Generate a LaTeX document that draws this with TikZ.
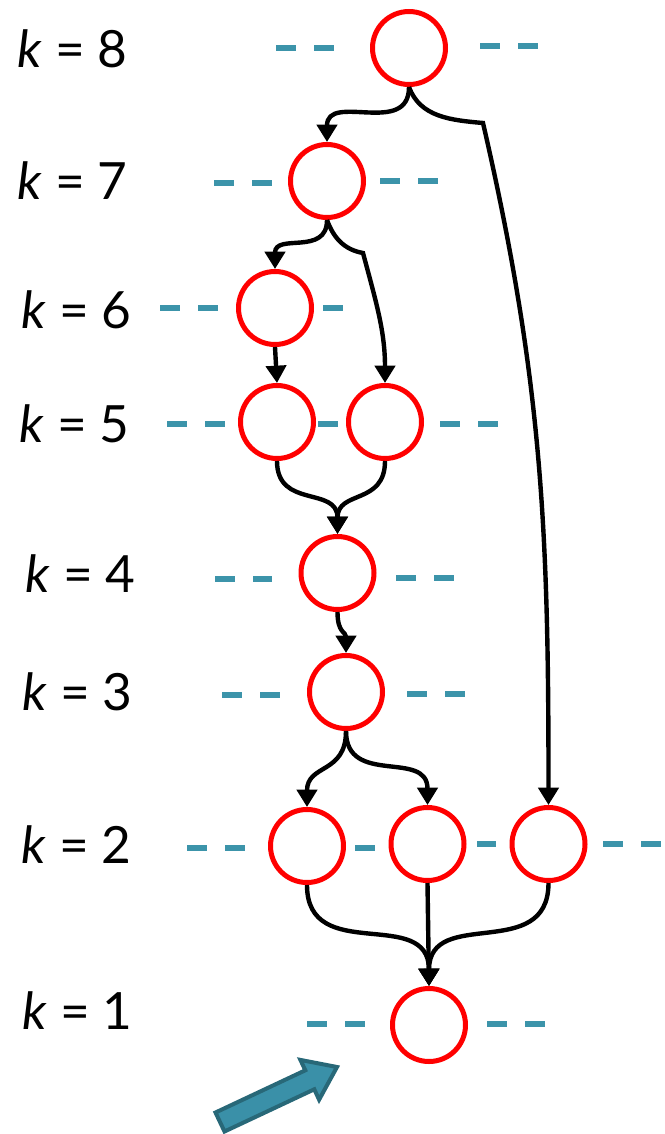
\documentclass[tikz,border=0pt]{standalone}
\usepackage{fontspec}
\setmainfont{Lato}
\usetikzlibrary{arrows.meta}

\definecolor{levelteal}{RGB}{60,148,170}
\definecolor{arrowteal}{RGB}{58,144,168}
\definecolor{arrowedge}{RGB}{40,104,120}

\begin{document}
\begin{tikzpicture}[x=0.75pt, y=0.75pt,
    frame/.style = {circle, draw=red, line width=3.75pt, minimum size=54.75pt, inner sep=0pt},
    call/.style = {line width=3.3pt, -{Triangle[length=13pt, width=15pt]}},
    level/.style = {levelteal, line width=4.5pt, dash pattern=on 15pt off 13.5pt},
    klabel/.style = {anchor=base west, inner sep=0pt, font=\fontsize{38.5}{42}\selectfont}]
    \useasboundingbox (0,0) rectangle (664,-1134);

    % Level labels
    \foreach \n/\x/\y in {8/17/68, 7/17/200, 6/21/328, 5/19/442, 4/25/592, 3/22/710, 2/21/863, 1/22/1029}
        \node[klabel] (lab\n) at (\x,-\y) {\textit{k} = \n};

    % Dashed levels
    \foreach \xa/\xb/\y in {276/334/48, 480/540/46, 214/275/183, 380/441/181,
                            160/218/308, 323/345/308, 167/228/424, 318/340/424, 440/500/424,
                            215/272/579, 396/455/578, 222/282/695, 407/466/694,
                            187/247/848, 355/377/848, 477/496/844, 603/664/844,
                            307/365/1024, 487/547/1024}
        \draw[level] (\xa,-\y) -- (\xb,-\y);

    % Frames
    \node[frame] (n8) at (409,-48) {};
    \node[frame] (n7) at (327,-181) {};
    \node[frame] (n6) at (275,-308) {};
    \node[frame] (n5a) at (277,-422) {};
    \node[frame] (n5b) at (385,-422) {};
    \node[frame] (n4) at (337.5,-573) {};
    \node[frame] (n3) at (346,-692) {};
    \node[frame] (n2a) at (307,-846) {};
    \node[frame] (n2b) at (427.5,-844) {};
    \node[frame] (n2c) at (548.5,-844) {};
    \node[frame] (n1) at (429,-1025) {};

    % Bends
    \coordinate (b82) at (483,-123);
    \coordinate (b75) at (363,-253);

    % Calls
    \draw[call] (n8.south) to[out=-90, in=90, looseness=1.3] (n7.north);
    \draw[call] (n8.south) to[out=-70, in=175] (b82) to[out=-77, in=90] (n2c.north);
    \draw[call] (n7.south) to[out=-90, in=90, looseness=1.3] (n6.north);
    \draw[call] (n7.south) to[out=-70, in=170] (b75) to[out=-75, in=90] (n5b.north);
    \draw[call] (n6.south) -- (n5a.north);
    \draw[call] (n5a.south) to[out=-90, in=90, looseness=1.3] (n4.north);
    \draw[call] (n5b.south) to[out=-90, in=90, looseness=1.3] (n4.north);
    \draw[call] (n4.south) to[out=-90, in=90, looseness=1.3] (n3.north);
    \draw[call] (n3.south) to[out=-90, in=90, looseness=1.3] (n2a.north);
    \draw[call] (n3.south) to[out=-90, in=90, looseness=1.3] (n2b.north);
    \draw[call] (n2a.south) to[out=-90, in=90, looseness=1.3] (n1.north);
    \draw[call] (n2b.south) -- (n1.north);
    \draw[call] (n2c.south) to[out=-90, in=90, looseness=1.3] (n1.north);

    % Pointer
    \draw[fill=arrowteal, draw=arrowedge, line width=3pt, line join=miter]
        (215.5,-1112.5) -- (305.3,-1070.3) -- (300.4,-1059.9) -- (337,-1067)
        -- (319.1,-1099.7) -- (314.3,-1089.3) -- (224.5,-1131.5) -- cycle;
\end{tikzpicture}
\end{document}
